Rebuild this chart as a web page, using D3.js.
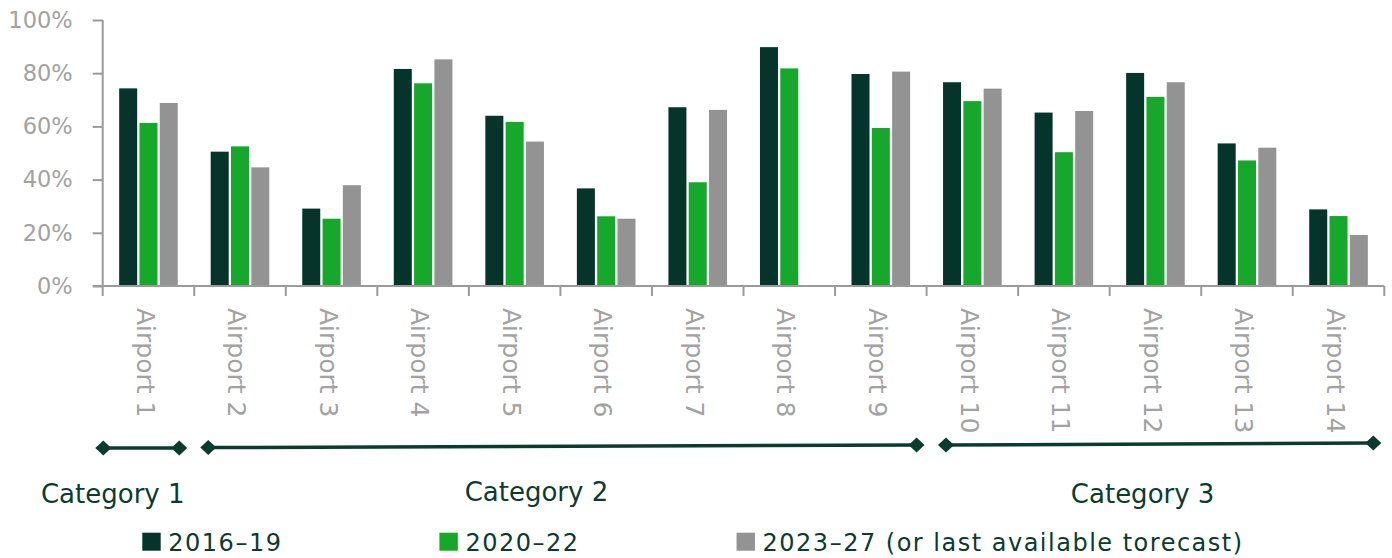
<!DOCTYPE html>
<html>
<head>
<meta charset="utf-8">
<script src="https://cdn.jsdelivr.net/npm/d3@7"></script>
<style>
  html, body { margin: 0; padding: 0; background: #ffffff; }
  svg { display: block; }
</style>
</head>
<body>
<svg id="chart" width="1392" height="558"></svg>
<script>
// ---------- data ----------
const airports = ["Airport 1","Airport 2","Airport 3","Airport 4","Airport 5","Airport 6","Airport 7",
                  "Airport 8","Airport 9","Airport 10","Airport 11","Airport 12","Airport 13","Airport 14"];
const seriesNames = ["2016–19", "2020–22", "2023–27 (or last available torecast)"];
const values2016 = [74.3, 50.5, 29.1, 81.6, 64.0, 36.7, 67.2, 89.8, 79.7, 76.6, 65.2, 80.1, 53.6, 28.8];
const values2020 = [61.3, 52.5, 25.3, 76.2, 61.7, 26.2, 39.0, 81.8, 59.4, 69.5, 50.3, 71.1, 47.2, 26.3];
const values2023 = [68.8, 44.6, 37.9, 85.2, 54.3, 25.3, 66.2, null, 80.6, 74.2, 65.8, 76.6, 52.0, 19.2];
const yTickValues = [0, 20, 40, 60, 80, 100];
const categoryNames = ["Category 1", "Category 2", "Category 3"];
const categoryFirst = [0, 1, 9];
const categoryLast  = [0, 8, 13];

// ---------- style / layout ----------
const colors = ["#05342a", "#15a82a", "#939393"];
const axisColor = "#9a9a9a";
const labelGray = "#a2a2a2";
const darkText = "#0b3b2f";
const font = "'DejaVu Sans', sans-serif";
const plot = { left: 102.7, right: 1384.3, top: 20, bottom: 286 };
const bracketInsets = [[0.6, 15], [14, 10], [19.4, 11]];
const bracketY = [[448, 448], [447.6, 445], [445, 443]];
const catLabelShift = [-28.5, -26, -17];
const catLabelBaseline = [503, 501, 503];

const svg = d3.select("#chart");
const allSeries = [values2016, values2020, values2023];

const x = d3.scaleBand().domain(airports).range([plot.left, plot.right]).paddingInner(0).paddingOuter(0);
const xInner = d3.scaleBand().domain(d3.range(3)).range([0, x.bandwidth()])
  .paddingInner(0.113).paddingOuter(0.811);
const y = d3.scaleLinear().domain([0, 100]).range([plot.bottom, plot.top]);

// ---------- bars ----------
const g = svg.append("g");
allSeries.forEach((vals, si) => {
  g.selectAll(null)
    .data(airports.map((a, i) => ({ a, v: vals[i] })).filter(d => d.v != null))
    .enter().append("rect")
    .attr("x", d => x(d.a) + xInner(si))
    .attr("width", xInner.bandwidth())
    .attr("y", d => y(d.v))
    .attr("height", d => y(0) - y(d.v))
    .attr("fill", colors[si]);
});

// ---------- y axis ----------
const yAxis = svg.append("g")
  .attr("transform", `translate(${plot.left},0)`)
  .call(d3.axisLeft(y).tickValues(yTickValues).tickSize(10).tickPadding(20)
        .tickFormat(d => d + "%"));
yAxis.select(".domain").attr("stroke", axisColor).attr("stroke-width", 2)
  .attr("d", `M0,${plot.top}V${plot.bottom}`);
yAxis.selectAll(".tick line").attr("stroke", axisColor).attr("stroke-width", 2);
yAxis.selectAll(".tick text").attr("fill", labelGray)
  .style("font-family", font).style("font-size", "22.5px");

// ---------- x axis ----------
const xAxis = svg.append("g")
  .attr("transform", `translate(0,${plot.bottom})`)
  .call(d3.axisBottom(x).tickSize(0).tickPadding(0));
xAxis.select(".domain").attr("stroke", axisColor).attr("stroke-width", 2)
  .attr("d", `M${plot.left - 10},0H${plot.right}`);
xAxis.selectAll(".tick text")
  .attr("fill", labelGray)
  .style("font-family", font).style("font-size", "25px")
  .attr("text-anchor", "start")
  .attr("transform", "rotate(90)")
  .attr("x", 22).attr("y", 11.8).attr("dy", null);
// boundary ticks
const boundaries = airports.map(a => x(a)).concat([x(airports[airports.length - 1]) + x.bandwidth()]);
xAxis.selectAll(".bound").data(boundaries).enter().append("line")
  .attr("x1", d => d).attr("x2", d => d).attr("y1", 0).attr("y2", 10)
  .attr("stroke", axisColor).attr("stroke-width", 2);

// ---------- category brackets ----------
const diamond = (cx, cy) => `M${cx - 8},${cy}L${cx},${cy - 7.5}L${cx + 8},${cy}L${cx},${cy + 7.5}Z`;
categoryNames.forEach((name, ci) => {
  const x0 = x(airports[categoryFirst[ci]]) + bracketInsets[ci][0];
  const x1 = x(airports[categoryLast[ci]]) + x.bandwidth() - bracketInsets[ci][1];
  const [y0, y1] = bracketY[ci];
  svg.append("line").attr("x1", x0).attr("x2", x1).attr("y1", y0).attr("y2", y1)
    .attr("stroke", darkText).attr("stroke-width", 3.5);
  svg.append("path").attr("d", diamond(x0, y0)).attr("fill", darkText);
  svg.append("path").attr("d", diamond(x1, y1)).attr("fill", darkText);
  svg.append("text").attr("x", (x0 + x1) / 2 + catLabelShift[ci]).attr("y", catLabelBaseline[ci])
    .attr("text-anchor", "middle").attr("fill", darkText)
    .style("font-family", font).style("font-size", "26px")
    .text(name);
});

// ---------- legend ----------
let lx = 142.3;
seriesNames.forEach((name, si) => {
  svg.append("rect").attr("x", lx).attr("y", 532.7).attr("width", 18.4).attr("height", 18)
    .attr("fill", colors[si]);
  const t = svg.append("text").attr("x", lx + 26).attr("y", 550.7).attr("fill", darkText)
    .style("font-family", font).style("font-size", "24px").style("letter-spacing", "1.5px")
    .text(name);
  lx += 26 + t.node().getComputedTextLength() + 157;
});
</script>
</body>
</html>
